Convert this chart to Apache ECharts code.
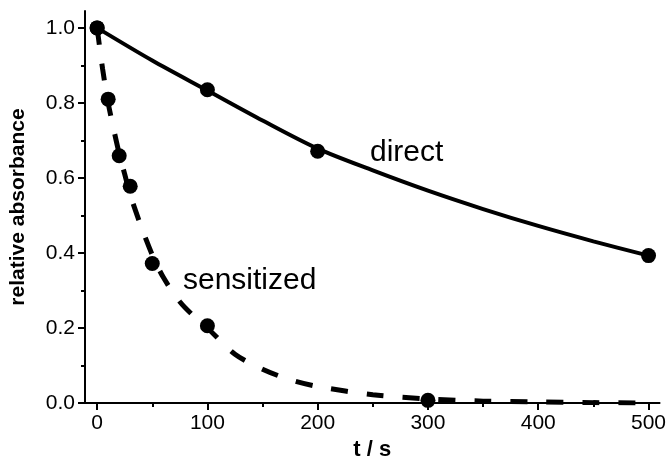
<!DOCTYPE html>
<html>
<head>
<meta charset="utf-8">
<script src="https://cdn.jsdelivr.net/npm/echarts@6/dist/echarts.min.js"></script>
<style>
  html, body { margin: 0; padding: 0; background: #fff; }
  #chart { width: 669px; height: 466px; }
</style>
</head>
<body>
<div id="chart"></div>
<script>
// measured points
var directT = [0, 100, 200, 500];
var directA = [1.0, 0.835, 0.671, 0.393];
var sensT = [0, 10, 20, 30, 50, 100, 300];
var sensA = [1.0, 0.81, 0.659, 0.578, 0.372, 0.206, 0.007];

// fitted curves
var directFitT = [0, 50, 100, 150, 200, 250, 300, 350, 400, 450, 500];
var directFitA = [1.0, 0.913, 0.833, 0.753, 0.678, 0.620, 0.566, 0.517, 0.472, 0.431, 0.393];
var sensFitT = [0, 5, 10, 15, 20, 25, 30, 40, 50, 60, 75, 90, 100, 125, 150, 175, 200, 250, 300, 350, 400, 450, 500];
var sensFitA = [1.0, 0.89, 0.80, 0.73, 0.665, 0.61, 0.555, 0.47, 0.395, 0.335, 0.27, 0.225, 0.2, 0.13, 0.09, 0.062, 0.044, 0.022, 0.011, 0.005, 0.003, 0.001, 0.0];

var xMajor = [0, 100, 200, 300, 400, 500];
var xMinor = [50, 150, 250, 350, 450];
var yMajor = [0, 0.2, 0.4, 0.6, 0.8, 1.0];
var yMinor = [0.1, 0.3, 0.5, 0.7, 0.9];

function pairs(xs, ys) {
  var out = [];
  for (var i = 0; i < xs.length; i++) out.push([xs[i], ys[i]]);
  return out;
}

var myChart = echarts.init(document.getElementById('chart'));
var font = 'Liberation Sans, Arial, sans-serif';

var option = {
  animation: false,
  grid: { left: 83, right: 7, top: 11, bottom: 63 },
  xAxis: [{
    type: 'value', min: -11, max: 510,
    name: 't / s', nameLocation: 'middle', nameGap: 32,
    nameTextStyle: { fontFamily: font, fontSize: 22, fontWeight: 'bold', color: '#000' },
    splitLine: { show: false },
    axisLine: { onZero: false, lineStyle: { color: '#000', width: 2 } },
    axisTick: { customValues: xMajor, length: 7, lineStyle: { color: '#000', width: 2 } },
    axisLabel: { customValues: xMajor, margin: 10, fontFamily: font, fontSize: 21, color: '#000' }
  }, {
    type: 'value', min: -11, max: 510, position: 'bottom',
    splitLine: { show: false },
    axisLine: { show: false, onZero: false },
    axisTick: { customValues: xMinor, length: 4, lineStyle: { color: '#000', width: 2 } },
    axisLabel: { show: false }
  }],
  yAxis: [{
    type: 'value', min: 0, max: 1.045,
    name: 'relative absorbance', nameLocation: 'middle', nameGap: 56,
    nameTextStyle: { fontFamily: font, fontSize: 21, fontWeight: 'bold', color: '#000' },
    splitLine: { show: false },
    axisLine: { onZero: false, lineStyle: { color: '#000', width: 2 } },
    axisTick: { customValues: yMajor, length: 7, lineStyle: { color: '#000', width: 2 } },
    axisLabel: {
      customValues: yMajor, margin: 10, fontFamily: font, fontSize: 21, color: '#000',
      formatter: function (v) { return v.toFixed(1); }
    }
  }, {
    type: 'value', min: 0, max: 1.045, position: 'left',
    splitLine: { show: false },
    axisLine: { show: false, onZero: false },
    axisTick: { customValues: yMinor, length: 4, lineStyle: { color: '#000', width: 2 } },
    axisLabel: { show: false }
  }],
  graphic: [
    { type: 'text', x: 370, y: 153, style: { text: 'direct', fontFamily: font, fontSize: 30, fill: '#000', verticalAlign: 'middle' } },
    { type: 'text', x: 183, y: 281, style: { text: 'sensitized', fontFamily: font, fontSize: 30, fill: '#000', verticalAlign: 'middle' } }
  ],
  series: [{
    name: 'direct fit', type: 'line', smooth: 0.3, showSymbol: false,
    data: pairs(directFitT, directFitA),
    lineStyle: { color: '#000', width: 4 }
  }, {
    name: 'sensitized fit', type: 'line', smooth: 0.3, showSymbol: false,
    data: pairs(sensFitT, sensFitA),
    lineStyle: { color: '#000', width: 5, type: [17, 19] }
  }, {
    name: 'direct', type: 'scatter', symbol: 'circle', symbolSize: 15,
    data: pairs(directT, directA),
    itemStyle: { color: '#000', opacity: 1 }, z: 5
  }, {
    name: 'sensitized', type: 'scatter', symbol: 'circle', symbolSize: 15,
    data: pairs(sensT, sensA),
    itemStyle: { color: '#000', opacity: 1 }, z: 5
  }]
};

myChart.setOption(option);
</script>
</body>
</html>
